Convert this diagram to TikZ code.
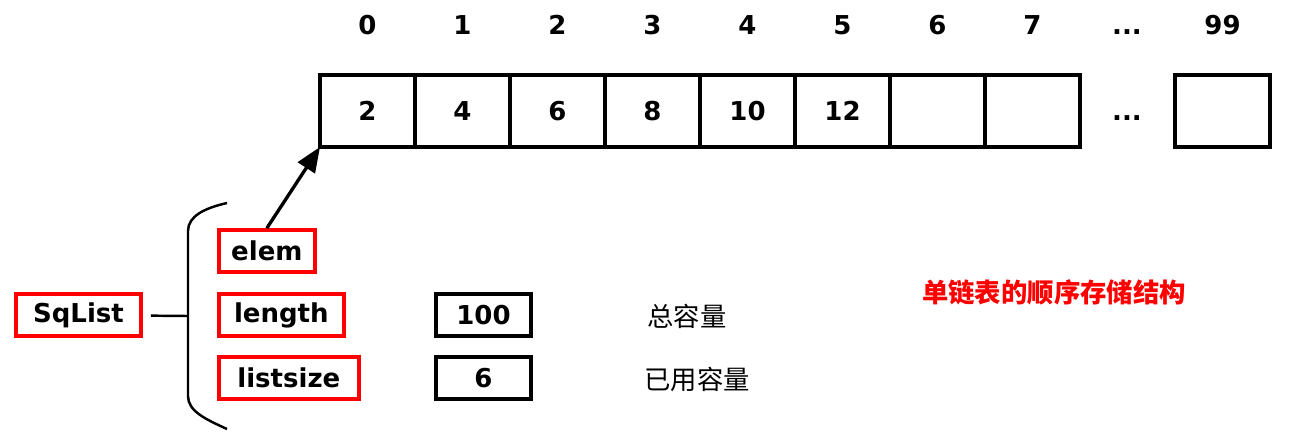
\documentclass[tikz,border=0pt]{standalone}
\usepackage{fontspec}
\setmainfont{DejaVu Sans}
\newfontfamily\cjk{Noto Sans CJK SC}
\usetikzlibrary{shapes, arrows, arrows.meta, positioning}

\begin{document}
\begin{tikzpicture}[font=\fontsize{14.8}{17}\selectfont\bfseries]
  \tikzstyle{cell} = [rectangle, draw, line width=2.1pt, outer sep=0pt, minimum width=1.9cm, minimum height=1.44cm, text centered]
  \tikzstyle{index} = [inner sep=0pt]
  \tikzstyle{field} = [rectangle, draw=red, line width=2.1pt, minimum height=0.84cm, text centered]
  \tikzstyle{value} = [rectangle, draw, line width=2.1pt, minimum width=1.9cm, minimum height=0.84cm, text centered]
  \tikzstyle{note} = [font=\cjk\fontsize{15}{17}\selectfont]
  \tikzstyle{heading} = [text=red, font=\cjk\fontsize{15}{17}\selectfont\bfseries]
  \tikzstyle{connector} = [draw, line width=1.9pt, -{Triangle[length=0.5cm, width=0.4cm]}]
  \useasboundingbox (0,0) rectangle (25.88,8.82);
  \node [cell] at (7.35,6.6) (cell0) {2};
  \node [cell, right = 0pt of cell0] (cell1) {4};
  \node [cell, right = 0pt of cell1] (cell2) {6};
  \node [cell, right = 0pt of cell2] (cell3) {8};
  \node [cell, right = 0pt of cell3] (cell4) {10};
  \node [cell, right = 0pt of cell4] (cell5) {12};
  \node [cell, right = 0pt of cell5] (cell6) {};
  \node [cell, right = 0pt of cell6] (cell7) {};
  \node [cell] at (24.45,6.6) (cellLast) {};
  \node [index, anchor=base] at (22.54,6.6 |- cell5.base) (cellDots) {...};
  \node [index, above = 0.8cm of cell0] (idx0) {0};
  \node [index, above = 0.8cm of cell1] (idx1) {1};
  \node [index, above = 0.8cm of cell2] (idx2) {2};
  \node [index, above = 0.8cm of cell3] (idx3) {3};
  \node [index, above = 0.8cm of cell4] (idx4) {4};
  \node [index, above = 0.8cm of cell5] (idx5) {5};
  \node [index, above = 0.8cm of cell6] (idx6) {6};
  \node [index, above = 0.8cm of cell7] (idx7) {7};
  \node [index, above = 0.8cm of cellLast] (idxLast) {99};
  \node [index, anchor=base] at (cellDots |- idx7.base) (idxDots) {...};
  \node [field, minimum width=2.5cm] at (1.57,2.52) (sqList) {SqList};
  \node [field, minimum width=1.92cm, anchor=west] at (4.34,3.8) (elem) {elem};
  \node [field, minimum width=2.5cm, anchor=west] at (4.34,2.52) (length) {length};
  \node [field, minimum width=2.8cm, anchor=west] at (4.34,1.26) (listsize) {listsize};
  \node [value] at (9.67,2.52) (lengthVal) {100};
  \node [value] at (9.67,1.26) (listsizeVal) {6};
  \node [note] at (13.74,2.5) (lengthNote) {总容量};
  \node [note] at (13.94,1.24) (listsizeNote) {已用容量};
  \node [heading] at (21.08,2.98) (title) {单链表的顺序存储结构};
  % brace
  \draw [line width=1.4pt] (4.54,4.76) .. controls (4.1,4.66) and (3.76,4.5) .. (3.76,4.2) -- (3.76,0.9) .. controls (3.76,0.6) and (4.1,0.44) .. (4.54,0.24);
  \coordinate (braceMid) at (3.76,2.5);
  \path [draw, line width=1.4pt, shorten <=0.16cm] (sqList) -- (braceMid);
  \path [connector] (elem.north) -- (cell0.south west);
\end{tikzpicture}
\end{document}
